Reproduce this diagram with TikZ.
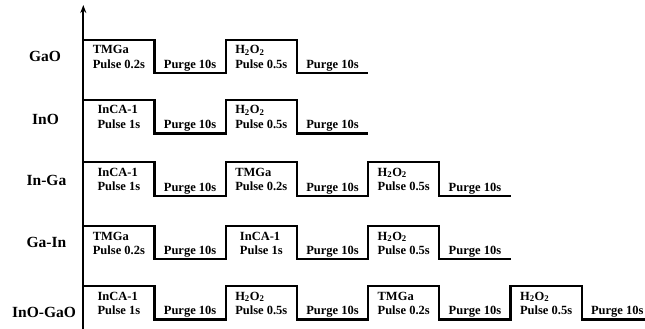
\documentclass[tikz,border=0pt]{standalone}
\usepackage{fontspec}
\setmainfont{Liberation Serif}
\usetikzlibrary{arrows.meta}

% pulse-step timing chart of the precursor sequences
\tikzset{
  wave/.style={line width=2.1pt, line join=miter},
  axisline/.style={line width=2pt, -{Stealth[length=8pt,width=6pt]}},
  pulsetext/.style={anchor=base, inner sep=0pt,
    font=\fontsize{12.5}{14}\selectfont\bfseries},
  purgetext/.style={anchor=base, inner sep=0pt,
    font=\fontsize{12.5}{14}\selectfont\bfseries},
  rowlabel/.style={anchor=base, inner sep=0pt,
    font=\fontsize{15.5}{18}\selectfont\bfseries},
}

% two-line pulse caption, block centred, lines left aligned
\newcommand{\pulsecap}[2]{\begin{tabular}[b]{@{}l@{}}#1\\#2\end{tabular}}
\newcommand{\hoo}{H\textsubscript{2}O\textsubscript{2}}

\begin{document}
\begin{tikzpicture}[x=1pt,y=-1pt]
\useasboundingbox (0,0) rectangle (645,329);
\clip (0,0) rectangle (645,329);

% segment edges along the time axis
\def\sw{71.2}
\def\xo{83.3}

% vertical axis
\coordinate (axisbase) at (\xo,329);
\coordinate (axistip) at (\xo,5);
\draw[axisline] (axisbase) -- (axistip);

% ---- GaO ----
\def\hi{40}\def\lo{73}
\draw[wave] (\xo,\hi) -- ++(\sw,0) |- ++(\sw,\lo-\hi) |- ++(\sw,\hi-\lo) |- ++(\sw,\lo-\hi);
\node[rowlabel] (lGaO) at (45,62) {GaO};
\node[pulsetext] (GaO1) at (\xo+0.5*\sw,\hi+28) {\pulsecap{TMGa}{Pulse 0.2s}};
\node[purgetext] (GaO2) at (\xo+1.5*\sw,\lo-5) {Purge 10s};
\node[pulsetext] (GaO3) at (\xo+2.5*\sw,\hi+28) {\pulsecap{\hoo}{Pulse 0.5s}};
\node[purgetext] (GaO4) at (\xo+3.5*\sw,\lo-5) {Purge 10s};

% ---- InO ----
\def\hi{100}\def\lo{133.5}
\draw[wave] (\xo,\hi) -- ++(\sw,0) |- ++(\sw,\lo-\hi) |- ++(\sw,\hi-\lo) |- ++(\sw,\lo-\hi);
\node[rowlabel] (lInO) at (45.5,124) {InO};
\node[pulsetext] (InO1) at (\xo+0.5*\sw,\hi+28) {\pulsecap{InCA-1}{Pulse 1s}};
\node[purgetext] (InO2) at (\xo+1.5*\sw,\lo-5) {Purge 10s};
\node[pulsetext] (InO3) at (\xo+2.5*\sw,\hi+28) {\pulsecap{\hoo}{Pulse 0.5s}};
\node[purgetext] (InO4) at (\xo+3.5*\sw,\lo-5) {Purge 10s};

% ---- In-Ga ----
\def\hi{162}\def\lo{196}
\draw[wave] (\xo,\hi) -- ++(\sw,0) |- ++(\sw,\lo-\hi) |- ++(\sw,\hi-\lo)
  |- ++(\sw,\lo-\hi) |- ++(\sw,\hi-\lo) |- ++(\sw,\lo-\hi);
\node[rowlabel] (lInGa) at (46.5,185) {In-Ga};
\node[pulsetext] (InGa1) at (\xo+0.5*\sw,\hi+28) {\pulsecap{InCA-1}{Pulse 1s}};
\node[purgetext] (InGa2) at (\xo+1.5*\sw,\lo-5) {Purge 10s};
\node[pulsetext] (InGa3) at (\xo+2.5*\sw,\hi+28) {\pulsecap{TMGa}{Pulse 0.2s}};
\node[purgetext] (InGa4) at (\xo+3.5*\sw,\lo-5) {Purge 10s};
\node[pulsetext] (InGa5) at (\xo+4.5*\sw,\hi+28) {\pulsecap{\hoo}{Pulse 0.5s}};
\node[purgetext] (InGa6) at (\xo+5.5*\sw,\lo-5) {Purge 10s};

% ---- Ga-In ----
\def\hi{226}\def\lo{259}
\draw[wave] (\xo,\hi) -- ++(\sw,0) |- ++(\sw,\lo-\hi) |- ++(\sw,\hi-\lo)
  |- ++(\sw,\lo-\hi) |- ++(\sw,\hi-\lo) |- ++(\sw,\lo-\hi);
\node[rowlabel] (lGaIn) at (46.5,247) {Ga-In};
\node[pulsetext] (GaIn1) at (\xo+0.5*\sw,\hi+28) {\pulsecap{TMGa}{Pulse 0.2s}};
\node[purgetext] (GaIn2) at (\xo+1.5*\sw,\lo-5) {Purge 10s};
\node[pulsetext] (GaIn3) at (\xo+2.5*\sw,\hi+28) {\pulsecap{InCA-1}{Pulse 1s}};
\node[purgetext] (GaIn4) at (\xo+3.5*\sw,\lo-5) {Purge 10s};
\node[pulsetext] (GaIn5) at (\xo+4.5*\sw,\hi+28) {\pulsecap{\hoo}{Pulse 0.5s}};
\node[purgetext] (GaIn6) at (\xo+5.5*\sw,\lo-5) {Purge 10s};

% ---- InO-GaO ----
\def\hi{286}\def\lo{319.5}
\draw[wave] (\xo,\hi) -- ++(\sw,0) |- ++(\sw,\lo-\hi) |- ++(\sw,\hi-\lo)
  |- ++(\sw,\lo-\hi) |- ++(\sw,\hi-\lo) |- ++(\sw,\lo-\hi)
  |- ++(\sw,\hi-\lo) |- ++(\sw,\lo-\hi);
\node[rowlabel] (lInOGaO) at (44,317) {InO-GaO};
\node[pulsetext] (IG1) at (\xo+0.5*\sw,\hi+28) {\pulsecap{InCA-1}{Pulse 1s}};
\node[purgetext] (IG2) at (\xo+1.5*\sw,\lo-5) {Purge 10s};
\node[pulsetext] (IG3) at (\xo+2.5*\sw,\hi+28) {\pulsecap{\hoo}{Pulse 0.5s}};
\node[purgetext] (IG4) at (\xo+3.5*\sw,\lo-5) {Purge 10s};
\node[pulsetext] (IG5) at (\xo+4.5*\sw,\hi+28) {\pulsecap{TMGa}{Pulse 0.2s}};
\node[purgetext] (IG6) at (\xo+5.5*\sw,\lo-5) {Purge 10s};
\node[pulsetext] (IG7) at (\xo+6.5*\sw,\hi+28) {\pulsecap{\hoo}{Pulse 0.5s}};
\node[purgetext] (IG8) at (\xo+7.5*\sw,\lo-5) {Purge 10s};
\end{tikzpicture}
\end{document}
